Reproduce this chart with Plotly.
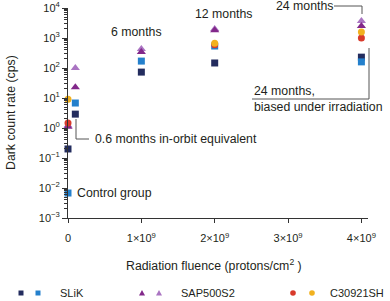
import plotly.graph_objects as go

# ---- data ----
slik_dark_x = [0, 0.1e9, 1e9, 2e9, 4e9, 4.1e9]
slik_dark_y = [0.2, 2.9, 73, 147, 230, 620]
slik_light_x = [0, 0.1e9, 1e9, 2e9, 4e9, 4.1e9]
slik_light_y = [0.0068, 6.8, 170, 540, 160, 700]
sap_dark_x = [0, 0.1e9, 1e9, 2e9, 4e9]
sap_dark_y = [1.1, 23, 340, 1800, 2500]
sap_light_x = [0, 0.1e9, 1e9, 2e9, 4e9, 4.1e9]
sap_light_y = [1.2, 100, 430, 2000, 3700, 8100]
c309_red_x = [0, 2e9, 4e9]
c309_red_y = [1.47, 600, 1000]
c309_yel_x = [0, 2e9, 4e9, 4.1e9]
c309_yel_y = [9, 670, 1600, 2700]

x_tickvals = [0, 1e9, 2e9, 3e9, 4e9]
x_ticktext = ["0", "1×10<sup>9</sup>", "2×10<sup>9</sup>", "3×10<sup>9</sup>", "4×10<sup>9</sup>"]
y_exps = [-3, -2, -1, 0, 1, 2, 3, 4]
y_ticktext = ["10<sup>%s</sup>" % (str(e).replace("-", "−")) for e in y_exps]

legend_labels = ["SLiK", "SAP500S2", "C30921SH"]

NAVY = "#232c5e"
BLUE = "#2480cc"
DPURP = "#82288a"
LPURP = "#aa74c2"
RED = "#d83a2b"
YEL = "#f1b11f"
TXT = "#231f20"
FONT = "Liberation Sans, Arial, sans-serif"
AFS = 12.3

L, R, T, B = 68, 22, 8, 83
W, H = 390, 301
PW, PH = W - L - R, H - T - B


def px(x):
    return (x - L) / PW


def py(y):
    return (T + PH - y) / PH


fig = go.Figure()


def add(xs, ys, color, symbol, size):
    fig.add_trace(go.Scatter(x=xs, y=ys, mode="markers", cliponaxis=False,
                             marker=dict(color=color, symbol=symbol, size=size,
                                         line=dict(width=0)),
                             showlegend=False, hoverinfo="skip"))


add(slik_dark_x, slik_dark_y, NAVY, "square", 7)
add(slik_light_x, slik_light_y, BLUE, "square", 7)
add(sap_light_x, sap_light_y, LPURP, "triangle-up", 8)
add(sap_dark_x, sap_dark_y, DPURP, "triangle-up", 8)
add(c309_red_x, c309_red_y, RED, "circle", 7)
add(c309_yel_x, c309_yel_y, YEL, "circle", 7)

minor_vals = [k * 10 ** e for e in range(-3, 4) for k in range(2, 10)]

fig.update_xaxes(range=[0, 4.09e9], tickvals=x_tickvals, ticktext=x_ticktext,
                 ticks="outside", ticklen=4, tickcolor="#333", showline=True,
                 linecolor="#333", linewidth=1, showgrid=False, zeroline=False,
                 ticklabelstandoff=6,
                 tickfont=dict(size=11, color=TXT, family=FONT))
fig.update_yaxes(type="log", range=[-3, 4], tickvals=[10 ** e for e in y_exps],
                 ticktext=y_ticktext, ticks="outside", ticklen=5, tickcolor="#333",
                 showline=True, linecolor="#333", linewidth=1, showgrid=False,
                 zeroline=False, tickfont=dict(size=11, color=TXT, family=FONT),
                 minor=dict(tickvals=minor_vals, ticks="outside", ticklen=3,
                            tickcolor="#333", showgrid=False))

ann = []


def text(x, y, s, anchor="left", size=AFS):
    ann.append(dict(x=px(x), y=py(y), xref="paper", yref="paper", text=s,
                    showarrow=False, xanchor=anchor, yanchor="middle",
                    font=dict(size=size, color=TXT, family=FONT)))


text(136, 32, "6 months", "center")
text(223, 14, "12 months", "center")
text(274, 6, "24 months")
text(252, 91, "24 months,")
text(252, 107, "biased under irradiation")
text(93, 139, "0.6 months in-orbit equivalent")
text(75, 193, "Control group")
text(214, 265, "Radiation fluence (protons/cm<sup>2</sup> )", "center")
ann.append(dict(x=px(11), y=py(113), xref="paper", yref="paper",
                text="Dark count rate (cps)", textangle=-90, showarrow=False,
                xanchor="center", yanchor="middle",
                font=dict(size=AFS, color=TXT, family=FONT)))

# legend labels
text(58, 293, legend_labels[0], size=11)
text(179, 293, legend_labels[1], size=11)
text(328, 293, legend_labels[2], size=11)

shapes = []


def seg(x0, y0, x1, y1):
    shapes.append(dict(type="line", xref="paper", yref="paper", x0=px(x0), y0=py(y0),
                       x1=px(x1), y1=py(y1), line=dict(color="#555", width=1)))


seg(334, 6, 362, 6)
seg(362, 6, 362, 14)
seg(369, 48, 369, 99)
seg(252, 99, 369, 99)
seg(76, 119, 76, 139)
seg(76, 139, 89, 139)


def leg_marker(x, y, kind, color):
    base = dict(xref="paper", yref="paper", xsizemode="pixel", ysizemode="pixel",
                xanchor=px(x), yanchor=py(y), fillcolor=color, line=dict(width=0))
    if kind == "square":
        base.update(type="rect", x0=-2.5, x1=2.5, y0=-2.5, y1=2.5)
    elif kind == "circle":
        base.update(type="circle", x0=-2.8, x1=2.8, y0=-2.8, y1=2.8)
    else:
        base.update(type="path", path="M -3,-2.5 L 3,-2.5 L 0,3 Z")
    shapes.append(base)


leg_marker(21, 293, "square", NAVY)
leg_marker(38, 293, "square", BLUE)
leg_marker(142, 293, "tri", DPURP)
leg_marker(159, 293, "tri", LPURP)
leg_marker(293, 293, "circle", RED)
leg_marker(312, 293, "circle", YEL)

fig.update_layout(width=W, height=H,
                  margin=dict(l=L, r=R, t=T, b=B, autoexpand=False),
                  paper_bgcolor="white", plot_bgcolor="white",
                  annotations=ann, shapes=shapes, showlegend=False,
                  font=dict(family=FONT, size=11, color=TXT))

fig.write_html("out.html", config={"displayModeBar": False},
               post_script="document.body.style.margin='0';document.body.style.overflow='hidden';")
